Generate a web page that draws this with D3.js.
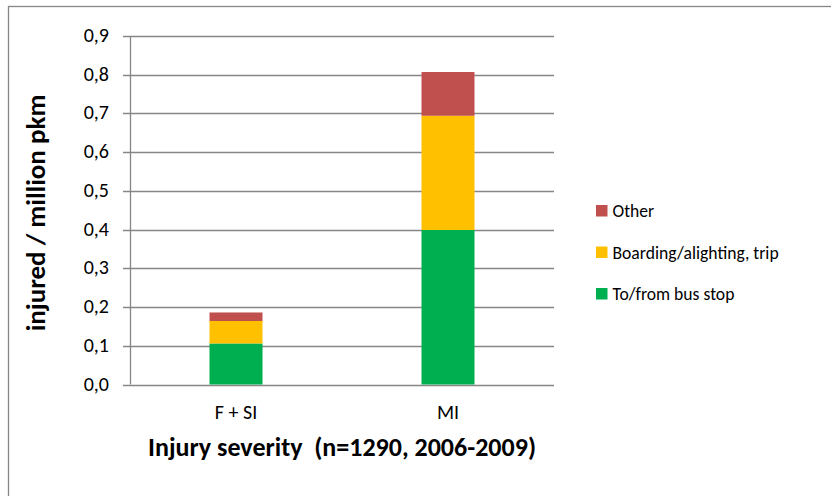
<!DOCTYPE html>
<html>
<head>
<meta charset="utf-8">
<script src="https://cdn.jsdelivr.net/npm/d3@7"></script>
<style>
  body { margin: 0; background: #fff; }
  text { font-family: Calibri, Carlito, Lato, sans-serif; fill: #000; }
</style>
</head>
<body>
<script>
const w = 831;
const h = 496;

// data
const categories = ["F + SI", "MI"];
const seriesNames = ["To/from bus stop", "Boarding/alighting, trip", "Other"];
const busStop = [0.106, 0.399];
const boarding = [0.058, 0.295];
const other = [0.022, 0.113];
const colors = ["#00B050", "#FFC000", "#C0504D"];
const yTicks = [0, 0.1, 0.2, 0.3, 0.4, 0.5, 0.6, 0.7, 0.8, 0.9];

const margin = {left: 130, right: 277, top: 36, bottom: 111.5};

const rows = categories.map((c, i) => ({
  cat: c,
  "To/from bus stop": busStop[i],
  "Boarding/alighting, trip": boarding[i],
  "Other": other[i]
}));
const stacked = d3.stack().keys(seriesNames)(rows);

const svg = d3.select("body").append("svg")
  .attr("width", w)
  .attr("height", h);

// outer frame
svg.append("rect")
  .attr("x", 8.5).attr("y", 6.5)
  .attr("width", w).attr("height", h)
  .attr("fill", "none")
  .attr("stroke", "#868686")
  .attr("stroke-width", 1.3);

const x = d3.scaleBand()
  .domain(categories)
  .range([margin.left, w - margin.right])
  .padding(0);

const y = d3.scaleLinear()
  .domain([0, 0.9])
  .range([h - margin.bottom, margin.top]);

// gridlines
svg.append("g")
  .selectAll("line")
  .data(yTicks)
  .enter()
  .append("line")
  .attr("x1", margin.left - 7)
  .attr("x2", w - margin.right)
  .attr("y1", d => Math.round(y(d)) + 0.5)
  .attr("y2", d => Math.round(y(d)) + 0.5)
  .attr("stroke", "#868686")
  .attr("stroke-width", 1.3);

// y axis line
svg.append("line")
  .attr("x1", margin.left + 0.5).attr("x2", margin.left + 0.5)
  .attr("y1", y(0.9)).attr("y2", y(0))
  .attr("stroke", "#868686")
  .attr("stroke-width", 1.3);

// y tick labels
svg.append("g")
  .selectAll("text")
  .data(yTicks)
  .enter()
  .append("text")
  .attr("x", 109)
  .attr("y", d => y(d) + 6)
  .attr("text-anchor", "end")
  .style("font-size", "20px")
  .text(d => d3.format(".1f")(d).replace(".", ","));

// bars
const barW = x.bandwidth() * 0.25;
svg.append("g")
  .selectAll("g")
  .data(stacked)
  .enter()
  .append("g")
  .attr("fill", (d, i) => colors[i])
  .selectAll("rect")
  .data(d => d)
  .enter()
  .append("rect")
  .attr("x", d => x(d.data.cat) + (x.bandwidth() - barW) / 2)
  .attr("width", barW)
  .attr("y", d => y(d[1]))
  .attr("height", d => y(d[0]) - y(d[1]));

// category labels
svg.append("g")
  .selectAll("text")
  .data(categories)
  .enter()
  .append("text")
  .attr("x", d => x(d) + x.bandwidth() / 2)
  .attr("y", 419)
  .attr("text-anchor", "middle")
  .style("font-size", "20px")
  .text(d => d);

// axis titles
svg.append("text")
  .attr("x", 342)
  .attr("y", 456)
  .attr("text-anchor", "middle")
  .style("font-size", "26px")
  .style("font-weight", "bold")
  .style("white-space", "pre")
  .text("Injury severity  (n=1290, 2006-2009)");

svg.append("text")
  .attr("transform", "translate(45,213) rotate(-90)")
  .attr("text-anchor", "middle")
  .style("font-size", "27px")
  .style("font-weight", "bold")
  .text("injured / million pkm");

// legend
const legendY = [294, 252.5, 211];
const legend = svg.append("g")
  .selectAll("g")
  .data(seriesNames)
  .enter()
  .append("g")
  .attr("transform", (d, i) => "translate(596," + legendY[i] + ")");

legend.append("rect")
  .attr("x", 0).attr("y", -6)
  .attr("width", 11.5).attr("height", 11.5)
  .attr("fill", (d, i) => colors[i]);

legend.append("text")
  .attr("x", 16.5)
  .attr("y", 6)
  .style("font-size", "17.6px")
  .text(d => d);
</script>
</body>
</html>
